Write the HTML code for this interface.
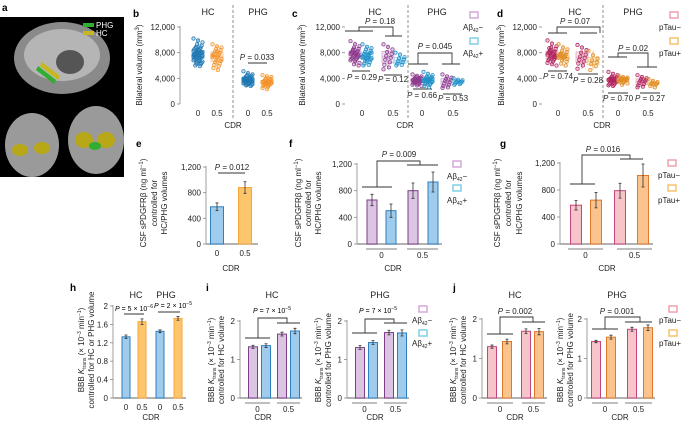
<!DOCTYPE html>
<html><head><meta charset="utf-8"><style>
html,body{margin:0;padding:0;background:#fff;}
svg{display:block;font-family:"Liberation Sans",Arial,sans-serif;}
.t{font-size:8px;fill:#222}
.tt{font-size:9px;fill:#222}
.pl{font-size:8px;fill:#222}
.lbl{font-size:10px;font-weight:bold;fill:#000}
.br{fill:none;stroke:#333;stroke-width:0.9}
</style></head><body>
<svg id="fig" width="685" height="421" viewBox="0 0 685 421">
<!-- panel a -->
<g>
<text class="lbl" x="2" y="11">a</text>
<rect x="0" y="17" width="124" height="160" fill="#000"/>
<ellipse cx="62" cy="58" rx="48" ry="36" fill="#8a8a8a"/>
<ellipse cx="62" cy="55" rx="38" ry="26" fill="#b5b5b5"/>
<ellipse cx="70" cy="62" rx="14" ry="12" fill="#555"/>
<path d="M38 66 L56 80 L54 84 L36 70Z" fill="#2fae2f"/>
<path d="M42 62 L60 76 L58 80 L40 66Z" fill="#c8b820"/>
<ellipse cx="32" cy="145" rx="27" ry="32" fill="#9a9a9a"/>
<ellipse cx="96" cy="140" rx="28" ry="34" fill="#9a9a9a"/>
<ellipse cx="20" cy="150" rx="8" ry="6" fill="#b8a818"/>
<ellipse cx="42" cy="148" rx="8" ry="6" fill="#b8a818"/>
<ellipse cx="84" cy="140" rx="9" ry="8" fill="#b8a818"/>
<ellipse cx="106" cy="140" rx="9" ry="8" fill="#b8a818"/>
<ellipse cx="95" cy="146" rx="6" ry="4" fill="#2fae2f"/>
<rect x="83" y="23" width="11" height="4" fill="#2fae2f"/>
<text x="96" y="28" font-size="8" fill="#fff">PHG</text>
<rect x="83" y="31" width="11" height="4" fill="#c8b820"/>
<text x="96" y="36" font-size="8" fill="#fff">HC</text>
</g>

<!-- static labels -->
<g>
<text class="lbl" x="133" y="17">b</text>
<text class="tt" x="208" y="15" text-anchor="middle">HC</text>
<text class="tt" x="258" y="15" text-anchor="middle">PHG</text>
<text class="t" transform="translate(142,65) rotate(-90)" text-anchor="middle">Bilateral volume (mm<tspan dy="-3" font-size="6">3</tspan><tspan dy="3">)</tspan></text>
<text class="t" x="233" y="128" text-anchor="middle">CDR</text>
<text class="pl" x="257" y="60" text-anchor="middle"><tspan font-style="italic">P</tspan> = 0.033</text>
<path class="br" d="M248 63H267"/>

<text class="lbl" x="292" y="17">c</text>
<text class="tt" x="375" y="15" text-anchor="middle">HC</text>
<text class="tt" x="437" y="15" text-anchor="middle">PHG</text>
<text class="t" transform="translate(305,65) rotate(-90)" text-anchor="middle">Bilateral volume (mm<tspan dy="-3" font-size="6">3</tspan><tspan dy="3">)</tspan></text>
<text class="t" x="405" y="128" text-anchor="middle">CDR</text>
<text class="pl" x="380" y="24" text-anchor="middle"><tspan font-style="italic">P</tspan> = 0.18</text>
<path class="br" d="M345 31H373M359 31V27H393V36M385 36H402"/>
<text class="pl" x="435" y="49" text-anchor="middle"><tspan font-style="italic">P</tspan> = 0.045</text>
<path class="br" d="M408 64H428M418 64V53H452V64M442 64H460"/>
<path class="br" d="M352 71H370M384 75H402M413 89H432M443 94H462"/>
<text class="pl" x="362" y="80" text-anchor="middle"><tspan font-style="italic">P</tspan> = 0.29</text>
<text class="pl" x="393" y="82" text-anchor="middle"><tspan font-style="italic">P</tspan> = 0.12</text>
<text class="pl" x="422" y="98" text-anchor="middle"><tspan font-style="italic">P</tspan> = 0.66</text>
<text class="pl" x="453" y="101" text-anchor="middle"><tspan font-style="italic">P</tspan> = 0.53</text>
<rect x="470" y="12" width="8" height="6" fill="none" stroke="#d6a8db" stroke-width="1.5"/>
<text class="t" x="463" y="30">Aβ<tspan font-size="5" dy="2">42</tspan><tspan dy="-2">−</tspan></text>
<rect x="470" y="38" width="8" height="6" fill="none" stroke="#7fd0e6" stroke-width="1.5"/>
<text class="t" x="463" y="56">Aβ<tspan font-size="5" dy="2">42</tspan><tspan dy="-2">+</tspan></text>

<text class="lbl" x="497" y="17">d</text>
<text class="tt" x="575" y="15" text-anchor="middle">HC</text>
<text class="tt" x="633" y="15" text-anchor="middle">PHG</text>
<text class="t" transform="translate(504,65) rotate(-90)" text-anchor="middle">Bilateral volume (mm<tspan dy="-3" font-size="6">3</tspan><tspan dy="3">)</tspan></text>
<text class="t" x="602" y="128" text-anchor="middle">CDR</text>
<text class="pl" x="575" y="24" text-anchor="middle"><tspan font-style="italic">P</tspan> = 0.07</text>
<path class="br" d="M548 33H567M557 33V27H600V33M580 33H597"/>
<text class="pl" x="633" y="51" text-anchor="middle"><tspan font-style="italic">P</tspan> = 0.02</text>
<path class="br" d="M608 57H627M618 57V53H648V67M637 67H657"/>
<path class="br" d="M548 71H567M578 74H598M608 93H628M640 93H660"/>
<text class="pl" x="558" y="79" text-anchor="middle"><tspan font-style="italic">P</tspan> = 0.74</text>
<text class="pl" x="588" y="83" text-anchor="middle"><tspan font-style="italic">P</tspan> = 0.28</text>
<text class="pl" x="618" y="101" text-anchor="middle"><tspan font-style="italic">P</tspan> = 0.70</text>
<text class="pl" x="650" y="101" text-anchor="middle"><tspan font-style="italic">P</tspan> = 0.27</text>
<rect x="670" y="12" width="8" height="6" fill="none" stroke="#f0a0b0" stroke-width="1.5"/>
<text class="t" x="659" y="30">pTau−</text>
<rect x="670" y="38" width="8" height="6" fill="none" stroke="#f5c26b" stroke-width="1.5"/>
<text class="t" x="659" y="56">pTau+</text>

<!-- e -->
<text class="lbl" x="136" y="147">e</text>
<text class="t" transform="translate(146,203) rotate(-90)" text-anchor="middle">CSF sPDGFRβ (ng ml<tspan dy="-3" font-size="6">−1</tspan><tspan dy="3">)</tspan></text>
<text class="t" transform="translate(157,203) rotate(-90)" text-anchor="middle">controlled for</text>
<text class="t" transform="translate(167,203) rotate(-90)" text-anchor="middle">HC/PHG volumes</text>
<text class="t" x="231" y="271" text-anchor="middle">CDR</text>
<text class="pl" x="232" y="170" text-anchor="middle"><tspan font-style="italic">P</tspan> = 0.012</text>
<path class="br" d="M218 173H245"/>

<!-- f -->
<text class="lbl" x="289" y="147">f</text>
<text class="t" transform="translate(301,203) rotate(-90)" text-anchor="middle">CSF sPDGFRβ (ng ml<tspan dy="-3" font-size="6">−1</tspan><tspan dy="3">)</tspan></text>
<text class="t" transform="translate(311,203) rotate(-90)" text-anchor="middle">controlled for</text>
<text class="t" transform="translate(321,203) rotate(-90)" text-anchor="middle">HC/PHG volumes</text>
<text class="t" x="393" y="271" text-anchor="middle">CDR</text>
<text class="pl" x="399" y="157" text-anchor="middle"><tspan font-style="italic">P</tspan> = 0.009</text>
<path class="br" d="M362 187H392M377 187V161H420V165M407 165H438"/>
<rect x="453" y="161" width="8" height="6" fill="none" stroke="#d6a8db" stroke-width="1.5"/>
<text class="t" x="447" y="179">Aβ<tspan font-size="5" dy="2">42</tspan><tspan dy="-2">−</tspan></text>
<rect x="453" y="185" width="8" height="6" fill="none" stroke="#7fd0e6" stroke-width="1.5"/>
<text class="t" x="447" y="203">Aβ<tspan font-size="5" dy="2">42</tspan><tspan dy="-2">+</tspan></text>

<!-- g -->
<text class="lbl" x="500" y="147">g</text>
<text class="t" transform="translate(500,203) rotate(-90)" text-anchor="middle">CSF sPDGFRβ (ng ml<tspan dy="-3" font-size="6">−1</tspan><tspan dy="3">)</tspan></text>
<text class="t" transform="translate(511,203) rotate(-90)" text-anchor="middle">controlled for</text>
<text class="t" transform="translate(522,203) rotate(-90)" text-anchor="middle">HC/PHG volumes</text>
<text class="t" x="607" y="271" text-anchor="middle">CDR</text>
<text class="pl" x="603" y="152" text-anchor="middle"><tspan font-style="italic">P</tspan> = 0.016</text>
<path class="br" d="M570 184H595M582 184V155H630V159M620 159H643"/>
<rect x="668" y="160" width="8" height="6" fill="none" stroke="#f0a0b0" stroke-width="1.5"/>
<text class="t" x="658" y="178">pTau−</text>
<rect x="668" y="185" width="8" height="6" fill="none" stroke="#f5c26b" stroke-width="1.5"/>
<text class="t" x="658" y="203">pTau+</text>

<!-- h -->
<text class="lbl" x="70" y="291">h</text>
<text class="tt" x="136" y="298" text-anchor="middle">HC</text>
<text class="tt" x="166" y="298" text-anchor="middle">PHG</text>
<text class="t" transform="translate(84,350) rotate(-90)" text-anchor="middle">BBB <tspan font-style="italic">K</tspan><tspan font-size="5" dy="2">trans</tspan><tspan dy="-2"> (× 10</tspan><tspan font-size="5" dy="-3">−3</tspan><tspan dy="3"> min</tspan><tspan font-size="5" dy="-3">−1</tspan><tspan dy="3">)</tspan></text>
<text class="t" transform="translate(94,350) rotate(-90)" text-anchor="middle">controlled for HC or PHG volume</text>
<text class="t" x="151" y="420" text-anchor="middle">CDR</text>
<text font-size="7" x="134" y="311" text-anchor="middle"><tspan font-style="italic">P</tspan> = 5 × 10<tspan font-size="5" dy="-3">−6</tspan></text>
<text font-size="7" x="173" y="308" text-anchor="middle"><tspan font-style="italic">P</tspan> = 2 × 10<tspan font-size="5" dy="-3">−5</tspan></text>
<path class="br" d="M124 314H144M158 312H180"/>

<!-- i -->
<text class="lbl" x="206" y="291">i</text>
<text class="tt" x="272" y="298" text-anchor="middle">HC</text>
<text class="tt" x="380" y="298" text-anchor="middle">PHG</text>
<text class="t" transform="translate(214,360) rotate(-90)" text-anchor="middle">BBB <tspan font-style="italic">K</tspan><tspan font-size="5" dy="2">trans</tspan><tspan dy="-2"> (× 10</tspan><tspan font-size="5" dy="-3">−3</tspan><tspan dy="3"> min</tspan><tspan font-size="5" dy="-3">−1</tspan><tspan dy="3">)</tspan></text>
<text class="t" transform="translate(224,360) rotate(-90)" text-anchor="middle">controlled for HC volume</text>
<text class="t" transform="translate(321,360) rotate(-90)" text-anchor="middle">BBB <tspan font-style="italic">K</tspan><tspan font-size="5" dy="2">trans</tspan><tspan dy="-2"> (× 10</tspan><tspan font-size="5" dy="-3">−3</tspan><tspan dy="3"> min</tspan><tspan font-size="5" dy="-3">−1</tspan><tspan dy="3">)</tspan></text>
<text class="t" transform="translate(331,360) rotate(-90)" text-anchor="middle">controlled for PHG volume</text>
<text class="t" x="263" y="420" text-anchor="middle">CDR</text>
<text class="t" x="375" y="420" text-anchor="middle">CDR</text>
<text font-size="7" x="272" y="313" text-anchor="middle"><tspan font-style="italic">P</tspan> = 7 × 10<tspan font-size="5" dy="-3">−5</tspan></text>
<path class="br" d="M245 338H270M258 338V318H287V323M277 323H300"/>
<text font-size="7" x="378" y="313" text-anchor="middle"><tspan font-style="italic">P</tspan> = 7 × 10<tspan font-size="5" dy="-3">−5</tspan></text>
<path class="br" d="M352 333H377M365 333V319H394V323M384 323H407"/>
<rect x="419" y="306" width="8" height="6" fill="none" stroke="#d6a8db" stroke-width="1.5"/>
<text class="t" x="412" y="323">Aβ<tspan font-size="5" dy="2">42</tspan><tspan dy="-2">−</tspan></text>
<rect x="419" y="330" width="8" height="6" fill="none" stroke="#7fd0e6" stroke-width="1.5"/>
<text class="t" x="412" y="346">Aβ<tspan font-size="5" dy="2">42</tspan><tspan dy="-2">+</tspan></text>

<!-- j -->
<text class="lbl" x="453" y="291">j</text>
<text class="tt" x="515" y="298" text-anchor="middle">HC</text>
<text class="tt" x="617" y="298" text-anchor="middle">PHG</text>
<text class="t" transform="translate(456,360) rotate(-90)" text-anchor="middle">BBB <tspan font-style="italic">K</tspan><tspan font-size="5" dy="2">trans</tspan><tspan dy="-2"> (× 10</tspan><tspan font-size="5" dy="-3">−3</tspan><tspan dy="3"> min</tspan><tspan font-size="5" dy="-3">−1</tspan><tspan dy="3">)</tspan></text>
<text class="t" transform="translate(466,360) rotate(-90)" text-anchor="middle">controlled for HC volume</text>
<text class="t" transform="translate(563,360) rotate(-90)" text-anchor="middle">BBB <tspan font-style="italic">K</tspan><tspan font-size="5" dy="2">trans</tspan><tspan dy="-2"> (× 10</tspan><tspan font-size="5" dy="-3">−3</tspan><tspan dy="3"> min</tspan><tspan font-size="5" dy="-3">−1</tspan><tspan dy="3">)</tspan></text>
<text class="t" transform="translate(573,360) rotate(-90)" text-anchor="middle">controlled for PHG volume</text>
<text class="t" x="515" y="420" text-anchor="middle">CDR</text>
<text class="t" x="620" y="420" text-anchor="middle">CDR</text>
<text class="pl" x="515" y="314" text-anchor="middle"><tspan font-style="italic">P</tspan> = 0.002</text>
<path class="br" d="M487 334H513M500 334V317H533V322M522 322H545"/>
<text class="pl" x="617" y="314" text-anchor="middle"><tspan font-style="italic">P</tspan> = 0.001</text>
<path class="br" d="M592 329H618M605 329V317H640V322M625 322H652"/>
<rect x="669" y="306" width="8" height="6" fill="none" stroke="#f0a0b0" stroke-width="1.5"/>
<text class="t" x="659" y="323">pTau−</text>
<rect x="669" y="330" width="8" height="6" fill="none" stroke="#f5c26b" stroke-width="1.5"/>
<text class="t" x="659" y="346">pTau+</text>
</g>
<g id="marks"></g>
</svg>
<script>
// ---------- data: scatter panels (bilateral volume, mm3) ----------
const volTicks = [0, 4000, 8000, 12000];
const volTickLabels = ['0', '4,000', '8,000', '12,000'];
const cdrLabels = ['0', '0.5'];
const bHC0 = [10200,9900,9600,9300,9100,8900,8800,8700,8600,8500,8400,8300,8200,8100,8000,8000,7900,7900,7800,7800,7700,7700,7600,7600,7500,7500,7400,7300,7200,7200,7100,7000,6900,6800,6700,6600,6500,6400,6300,6200,6000,5900,7650,8150,7350];
const bHC05 = [9300,9000,8800,8600,8400,8200,8000,7800,7700,7500,7400,7300,7200,7000,6800,6700,6500,6300,6100,5900,5600,5300,7600,8100];
const bPHG0 = [5100,4800,4600,4500,4400,4300,4200,4100,4100,4000,4000,3900,3900,3900,3800,3800,3800,3700,3700,3700,3700,3600,3600,3600,3500,3500,3500,3400,3400,3400,3300,3300,3200,3200,3100,3100,3000,3000,2900,2800,3850,3650,3550,3750,3950];
const bPHG05 = [4500,4300,4200,4000,3900,3800,3700,3600,3500,3500,3400,3400,3300,3300,3200,3200,3100,3000,3000,2900,2800,2700,2500,2300,3600,3100];
const cHC0neg = [9800,9300,9000,8800,8600,8400,8300,8200,8100,8000,7900,7800,7800,7700,7600,7500,7400,7300,7200,7100,7000,6900,6800,6600,6400,6200,6000,8500,7650,7950];
const cHC0pos = [9300,8900,8700,8500,8300,8100,7900,7800,7600,7500,7400,7300,7200,7100,7000,6900,6700,6500,6300,6100,6000,7700,7250,6800,8000];
const cHC05neg = [9300,8900,8500,8100,7800,7500,7200,6900,6500,6100,5700,5400];
const cHC05pos = [8000,7700,7300,7100,6900,6700,6500,6300,6100,6000];
const cPHG0neg = [4600,4400,4300,4200,4100,4000,3950,3900,3850,3800,3750,3700,3650,3600,3550,3500,3450,3400,3350,3300,3200,3100,3000,2900,2800,3700,3800,3600,3900,3500];
const cPHG0pos = [5000,4700,4500,4300,4200,4100,4000,3900,3800,3750,3700,3650,3600,3500,3450,3400,3300,3200,3100,3000,2800,2600,3550,3850,3950];
const cPHG05neg = [4600,4300,4100,3900,3700,3600,3400,3200,3000,2800,2600,2500];
const cPHG05pos = [4000,3800,3700,3600,3500,3400,3300,3200,3100,3000];
const dHC0neg = [9900,9400,9000,8800,8600,8400,8200,8100,8000,7900,7800,7700,7600,7500,7400,7300,7200,7100,7000,6900,6800,6600,6400,6200,6000,8300,7650,7950,7350,8700];
const dHC0pos = [9300,8800,8500,8300,8100,7900,7700,7600,7500,7400,7300,7200,7100,7000,6800,6600,6300,6000,7800,7450];
const dHC05neg = [9200,8800,8400,8000,7700,7400,7200,6900,6600,6300,6000,5500];
const dHC05pos = [8300,7600,7100,6800,6500,6200,5900,5300];
const dPHG0neg = [5000,4700,4500,4300,4200,4100,4000,3950,3900,3850,3800,3750,3700,3650,3600,3550,3500,3400,3300,3200,3100,3000,2900,2800,3700,3800,3600,3900];
const dPHG0pos = [4400,4200,4100,4000,3950,3900,3850,3800,3700,3600,3500,3400,3300,3200,3000,3750,3850];
const dPHG05neg = [4500,4200,4000,3900,3700,3600,3500,3300,3100,2900,2700,2600];
const dPHG05pos = [3900,3600,3400,3300,3200,3100,3000,2800,2600];

// ---------- data: bar panels ----------
const sTicks = [0, 400, 800, 1200];
const sTickLabels = ['0', '400', '800', '1,200'];
const eVals = [580, 880];
const eErr = [60, 90];
const fVals = [660, 500, 800, 930];
const fErr = [85, 100, 115, 150];
const gVals = [575, 650, 790, 1015];
const gErr = [70, 115, 110, 170];
const hTicks = [0, 0.4, 0.8, 1.2, 1.6, 2];
const hTickLabels = ['0', '0.4', '0.8', '1.2', '1.6', '2'];
const hCatLabels = ['0', '0.5', '0', '0.5'];
const hVals = [1.33, 1.66, 1.45, 1.73];
const hErr = [0.04, 0.06, 0.03, 0.04];
const kTicks = [0, 1, 2];
const kTickLabels = ['0', '1', '2'];
const iHCVals = [1.33, 1.36, 1.66, 1.74];
const iHCErr = [0.04, 0.05, 0.05, 0.07];
const iPHGVals = [1.31, 1.44, 1.70, 1.69];
const iPHGErr = [0.05, 0.05, 0.06, 0.08];
const jHCVals = [1.30, 1.43, 1.69, 1.68];
const jHCErr = [0.04, 0.06, 0.06, 0.08];
const jPHGVals = [1.43, 1.54, 1.74, 1.78];
const jPHGErr = [0.03, 0.05, 0.05, 0.07];

const NS = 'http://www.w3.org/2000/svg';
const root = document.getElementById('marks');
function mk(tag, attrs, parent) {
  const el = document.createElementNS(NS, tag);
  for (const k in attrs) el.setAttribute(k, attrs[k]);
  (parent || root).appendChild(el);
  return el;
}
function scaleY(y0, yTop, vmax) { return v => y0 - v / vmax * (y0 - yTop); }

function yAxis(prefix, axisX, y, ticks, labels, y0, yTop, showLine) {
  if (showLine) {
    const ln = mk('line', {x1: axisX, x2: axisX, y1: y0, y2: yTop - 1, stroke: '#888', 'stroke-width': 0.8});
    
    
  }
  ticks.forEach((t, i) => {
    const yy = y(t);
    const tk = mk('line', {x1: axisX - 3, x2: axisX, y1: yy, y2: yy, stroke: '#888', 'stroke-width': 0.8});
    
    
    const tx = mk('text', {x: axisX - 5, y: yy + 3, 'text-anchor': 'end', class: 't'});
    tx.textContent = labels[i];
    
    
  });
}
function xLabel(prefix, x, yy, txt) {
  const tx = mk('text', {x: x, y: yy, 'text-anchor': 'middle', class: 't'});
  tx.textContent = txt;
  
  
}
function quart(arr, q) {
  const s = arr.slice().sort((a, b) => a - b);
  const p = (s.length - 1) * q, lo = Math.floor(p), hi = Math.ceil(p);
  return s[lo] + (s[hi] - s[lo]) * (p - lo);
}
function swarm(prefix, vals, cx, y, color, boxColor) {
  const q1 = quart(vals, 0.25), q3 = quart(vals, 0.75), med = quart(vals, 0.5);
  const mn = Math.min.apply(null, vals), mx = Math.max.apply(null, vals);
  const wh = mk('line', {x1: cx, x2: cx, y1: y(mn), y2: y(mx), stroke: boxColor, 'stroke-width': 0.8});
  
  
  const bx = mk('rect', {x: cx - 6, y: y(q3), width: 12, height: y(q1) - y(q3), fill: boxColor, 'fill-opacity': 0.25, stroke: boxColor, 'stroke-width': 0.7});
  
  
  const md = mk('line', {x1: cx - 6, x2: cx + 6, y1: y(med), y2: y(med), stroke: boxColor, 'stroke-width': 0.7});
  
  
  vals.forEach((v, i) => {
    const dx = ((i * 5) % 11 - 5) * 0.9;
    const c = mk('circle', {cx: cx + dx, cy: y(v), r: 1.7, fill: color, 'fill-opacity': 0.25, stroke: color, 'stroke-width': 0.7});
    
    
  });
}
function dashed(prefix, x, y1, y2) {
  const l = mk('line', {x1: x, x2: x, y1: y1, y2: y2, stroke: '#777', 'stroke-width': 0.8, 'stroke-dasharray': '3,2'});
  
  
}

// Panel b
(function () {
  const y = scaleY(104, 27, 12000);
  yAxis('b', 180, y, volTicks, volTickLabels, 104, 27, true);
  dashed('b', 233, 5, 120);
  swarm('b-hc-cdr0', bHC0, 198, y, '#1f78b4', '#6aa9d6');
  swarm('b-hc-cdr05', bHC05, 217, y, '#f5922a', '#f9b978');
  swarm('b-phg-cdr0', bPHG0, 248, y, '#1f78b4', '#6aa9d6');
  swarm('b-phg-cdr05', bPHG05, 267, y, '#f5922a', '#f9b978');
  [198, 217, 248, 267].forEach((x, i) => xLabel('b', x, 116, cdrLabels[i % 2]));
})();
// Panel c
(function () {
  const y = scaleY(104, 27, 12000);
  yAxis('c', 345, y, volTicks, volTickLabels, 104, 27, false);
  dashed('c', 408, 5, 120);
  const P = '#8e3b8e', B = '#1f8fc8';
  swarm('c-hc-cdr0-abneg', cHC0neg, 355, y, P, '#c99bcf');
  swarm('c-hc-cdr0-abpos', cHC0pos, 367, y, B, '#8fd0ea');
  swarm('c-hc-cdr05-abneg', cHC05neg, 388, y, P, '#c99bcf');
  swarm('c-hc-cdr05-abpos', cHC05pos, 400, y, B, '#8fd0ea');
  swarm('c-phg-cdr0-abneg', cPHG0neg, 417, y, P, '#c99bcf');
  swarm('c-phg-cdr0-abpos', cPHG0pos, 428, y, B, '#8fd0ea');
  swarm('c-phg-cdr05-abneg', cPHG05neg, 447, y, P, '#c99bcf');
  swarm('c-phg-cdr05-abpos', cPHG05pos, 458, y, B, '#8fd0ea');
  [362, 393, 422, 453].forEach((x, i) => xLabel('c', x, 116, cdrLabels[i % 2]));
})();
// Panel d
(function () {
  const y = scaleY(104, 27, 12000);
  yAxis('d', 542, y, volTicks, volTickLabels, 104, 27, false);
  dashed('d', 603, 5, 120);
  const M = '#b0245e', O = '#e08a22';
  swarm('d-hc-cdr0-ptauneg', dHC0neg, 552, y, M, '#e59ab5');
  swarm('d-hc-cdr0-ptaupos', dHC0pos, 563, y, O, '#f5c26b');
  swarm('d-hc-cdr05-ptauneg', dHC05neg, 582, y, M, '#e59ab5');
  swarm('d-hc-cdr05-ptaupos', dHC05pos, 593, y, O, '#f5c26b');
  swarm('d-phg-cdr0-ptauneg', dPHG0neg, 613, y, M, '#e59ab5');
  swarm('d-phg-cdr0-ptaupos', dPHG0pos, 623, y, O, '#f5c26b');
  swarm('d-phg-cdr05-ptauneg', dPHG05neg, 642, y, M, '#e59ab5');
  swarm('d-phg-cdr05-ptaupos', dPHG05pos, 653, y, O, '#f5c26b');
  [558, 588, 618, 648].forEach((x, i) => xLabel('d', x, 116, cdrLabels[i % 2]));
})();

// Bar panels
const blueF = '#9fcbec', blueS = '#2e7fc0', orF = '#fdc66c', orS = '#f7a637';
const puF = '#dcc5e2', puS = '#7d3f87', pkF = '#f6c4c9', pkS = '#c2467b', or2F = '#fbc48e', or2S = '#e0782a';
function barPanel(o) {
  const y = scaleY(o.y0, o.yTop, o.vmax);
  yAxis(o.prefix, o.axisX, y, o.ticks, o.tickLabels, o.y0, o.yTop, true);
  const base = mk('line', {x1: o.axisX, x2: o.endX, y1: o.y0, y2: o.y0, stroke: '#999', 'stroke-width': 1.5});
  
  
  o.vals.forEach((v, i) => {
    const cx = o.axisX + o.offsets[i];
    const r = mk('rect', {x: cx - o.w / 2, y: y(v), width: o.w, height: o.y0 - y(v), fill: o.fills[i], stroke: o.strokes[i], 'stroke-width': 1});
    
    
    const e = o.errs[i];
    const eb = mk('path', {d: 'M' + cx + ' ' + y(v + e) + 'V' + y(v - e) + 'M' + (cx - 1.5) + ' ' + y(v + e) + 'H' + (cx + 1.5) + 'M' + (cx - 1.5) + ' ' + y(v - e) + 'H' + (cx + 1.5), stroke: '#333', 'stroke-width': 0.8, fill: 'none'});
    
    
  });
  if (o.groups) {
    o.groups.forEach((g, gi) => {
      const a = o.axisX + g[0], b = o.axisX + g[1];
      const ul = mk('line', {x1: a, x2: b, y1: o.y0 + 5, y2: o.y0 + 5, stroke: '#555', 'stroke-width': 0.8});
      
      
      xLabel(o.prefix, (a + b) / 2, o.y0 + 14, o.catLabels[gi]);
    });
  } else {
    o.vals.forEach((v, i) => xLabel(o.prefix, o.axisX + o.offsets[i], o.y0 + 12, o.catLabels[i]));
  }
}
barPanel({prefix: 'e', axisX: 206, endX: 258, y0: 244, yTop: 167, vmax: 1200, ticks: sTicks, tickLabels: sTickLabels,
  vals: eVals, errs: eErr, offsets: [11, 39], w: 13, fills: [blueF, orF], strokes: [blueS, orS], catLabels: cdrLabels});
barPanel({prefix: 'f', axisX: 357, endX: 442, y0: 244, yTop: 164, vmax: 1200, ticks: sTicks, tickLabels: sTickLabels,
  vals: fVals, errs: fErr, offsets: [15, 34, 56, 76], w: 10, fills: [puF, blueF, puF, blueF], strokes: [puS, blueS, puS, blueS],
  groups: [[9, 40], [50, 81]], catLabels: cdrLabels});
barPanel({prefix: 'g', axisX: 560, endX: 653, y0: 244, yTop: 163, vmax: 1200, ticks: sTicks, tickLabels: sTickLabels,
  vals: gVals, errs: gErr, offsets: [16, 36, 60, 83], w: 11, fills: [pkF, or2F, pkF, or2F], strokes: [pkS, or2S, pkS, or2S],
  groups: [[8, 43], [57, 92]], catLabels: cdrLabels});
barPanel({prefix: 'h', axisX: 113, endX: 186, y0: 398, yTop: 306, vmax: 2, ticks: hTicks, tickLabels: hTickLabels,
  vals: hVals, errs: hErr, offsets: [13, 29, 47, 65], w: 8, fills: [blueF, orF, blueF, orF], strokes: [blueS, orS, blueS, orS],
  catLabels: hCatLabels});
barPanel({prefix: 'i-hc', axisX: 240, endX: 302, y0: 398, yTop: 321, vmax: 2, ticks: kTicks, tickLabels: kTickLabels,
  vals: iHCVals, errs: iHCErr, offsets: [13, 26, 42, 55], w: 9, fills: [puF, blueF, puF, blueF], strokes: [puS, blueS, puS, blueS],
  groups: [[5, 30], [37, 60]], catLabels: cdrLabels});
barPanel({prefix: 'i-phg', axisX: 347, endX: 409, y0: 398, yTop: 321, vmax: 2, ticks: kTicks, tickLabels: kTickLabels,
  vals: iPHGVals, errs: iPHGErr, offsets: [13, 26, 42, 55], w: 9, fills: [puF, blueF, puF, blueF], strokes: [puS, blueS, puS, blueS],
  groups: [[5, 30], [37, 60]], catLabels: cdrLabels});
barPanel({prefix: 'j-hc', axisX: 482, endX: 547, y0: 398, yTop: 319, vmax: 2, ticks: kTicks, tickLabels: kTickLabels,
  vals: jHCVals, errs: jHCErr, offsets: [10, 25, 44, 57], w: 9, fills: [pkF, or2F, pkF, or2F], strokes: [pkS, or2S, pkS, or2S],
  groups: [[5, 31], [40, 63]], catLabels: cdrLabels});
barPanel({prefix: 'j-phg', axisX: 587, endX: 655, y0: 398, yTop: 319, vmax: 2, ticks: kTicks, tickLabels: kTickLabels,
  vals: jPHGVals, errs: jPHGErr, offsets: [9, 24, 45, 61], w: 9, fills: [pkF, or2F, pkF, or2F], strokes: [pkS, or2S, pkS, or2S],
  groups: [[5, 31], [38, 65]], catLabels: cdrLabels});
</script>
</body></html>
